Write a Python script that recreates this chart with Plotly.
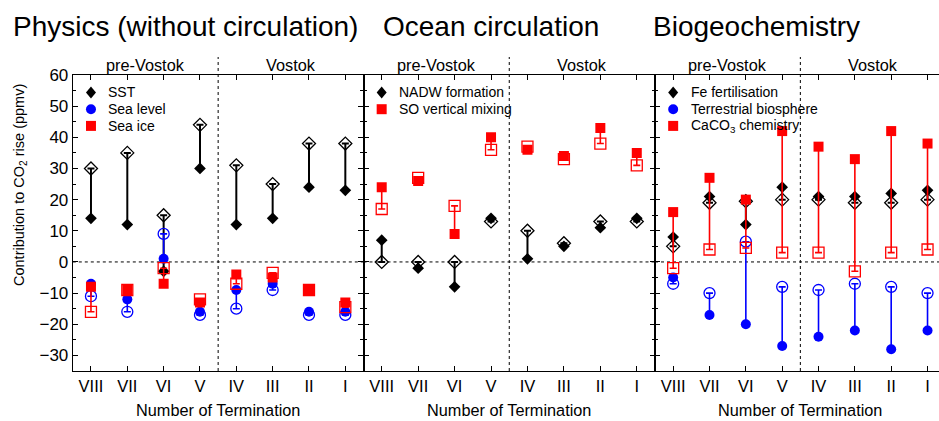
import plotly.graph_objects as go

W, H = 939, 421

terminations = ["VIII", "VII", "VI", "V", "IV", "III", "II", "I"]

# Physics (without circulation)
sst_full = [14, 12, -3, 30, 12, 14, 24, 23]
sst_open = [30, 35, 15, 44, 31, 25, 38, 38]
sea_level_full = [-7, -12, 1, -16, -9, -7, -16, -16]
sea_level_open = [-11, -16, 9, -17, -15, -9, -17, -17]
sea_ice_full = [-8, -9, -7, -13, -4, -5, -9, -13]
sea_ice_open = [-16, -9, -2, -12, -7, -3.5, -9, -14.5]

# Ocean circulation
nadw_full = [7, -2, -8, 14, 1, 5, 11, 14]
nadw_open = [0, 0, 0, 13, 10, 6, 13, 13]
so_full = [24, 26, 9, 40, 36, 34, 43, 35]
so_open = [17, 27, 18, 36, 37, 33, 38, 31]

# Biogeochemistry
fe_full = [8, 21, 12, 24, 21, 21, 22, 23]
fe_open = [5, 19, 19.5, 20, 20, 19, 19, 20]
tb_full = [-5, -17, -20, -27, -24, -22, -28, -22]
tb_open = [-7, -10, 6.5, -8, -9, -7, -8, -10]
caco3_full = [16, 27, 20, 42, 37, 33, 42, 38]
caco3_open = [-2, 4, 4.5, 3, 3, -3, 3, 4]

panel_titles = ["Physics (without circulation)", "Ocean circulation", "Biogeochemistry"]
period_labels = ["pre-Vostok", "Vostok"]
y_title = "Contribution to CO<sub>2</sub> rise (ppmv)"
x_title = "Number of Termination"

BLACK, BLUE, RED = "#000000", "#0000ff", "#ff0000"
FONT = "Liberation Sans, Arial, sans-serif"

# (name, filled values, open values, colour, symbol, filled size, open size, bar width)
panels = [
    [("SST", sst_full, sst_open, BLACK, "diamond", 9, 10, 2.0),
     ("Sea level", sea_level_full, sea_level_open, BLUE, "circle", 10, 11, 1.6),
     ("Sea ice", sea_ice_full, sea_ice_open, RED, "square", 10, 11, 1.6)],
    [("NADW formation", nadw_full, nadw_open, BLACK, "diamond", 9, 10, 2.0),
     ("SO vertical mixing", so_full, so_open, RED, "square", 10, 11, 1.6)],
    [("Fe fertilisation", fe_full, fe_open, BLACK, "diamond", 9, 10, 2.0),
     ("Terrestrial biosphere", tb_full, tb_open, BLUE, "circle", 10, 11, 1.6),
     ("CaCO<sub>3</sub> chemistry", caco3_full, caco3_open, RED, "square", 10, 11, 1.6)],
]

# pixel layout
px_left = [72.8, 363.5, 655.0]
px_right = [363.5, 655.0, 939.0]
cat_w = (363.5 - 72.8) / 8
top_px, bot_px = 75, 371

fig = go.Figure()

for p, series in enumerate(panels):
    sfx = "" if p == 0 else str(p + 1)
    for name, full, opn, col, sym, s_full, s_open, lw in series:
        diff = [o - f for o, f in zip(opn, full)]
        plus = [d if d > 0 else 0 for d in diff]
        minus = [-d if d < 0 else 0 for d in diff]
        fig.add_trace(go.Scatter(
            x=terminations, y=full, mode="markers", name=name, showlegend=False,
            xaxis="x" + sfx, yaxis="y" + sfx,
            marker=dict(symbol=sym, size=s_full, color=col, line=dict(width=0)),
            error_y=dict(type="data", symmetric=False, array=plus, arrayminus=minus,
                         color=col, thickness=lw, width=3.5),
        ))
        fig.add_trace(go.Scatter(
            x=terminations, y=opn, mode="markers", showlegend=False,
            xaxis="x" + sfx, yaxis="y" + sfx,
            marker=dict(symbol=sym + "-open", size=s_open, color=col, line=dict(width=1.3)),
        ))

layout = dict(
    template="none",
    width=W, height=H, margin=dict(l=0, r=0, t=0, b=0, autoexpand=False),
    paper_bgcolor="white", plot_bgcolor="white",
    font=dict(family=FONT, color="black"),
    showlegend=False,
)

ydom = [(H - bot_px) / H, (H - top_px) / H]
shapes, annotations = [], []


def ann(text, x, y, size, xanchor="center", xref="paper", angle=0):
    annotations.append(dict(text=text, xref=xref, yref="paper", x=x, y=y,
                            xanchor=xanchor, yanchor="middle", showarrow=False,
                            textangle=angle, font=dict(size=size, family=FONT, color="black")))


for p in range(3):
    sfx = "" if p == 0 else str(p + 1)
    xr_hi = 7.5 if p < 2 else -0.5 + (px_right[p] - px_left[p]) / cat_w
    layout["xaxis" + sfx] = dict(
        domain=[px_left[p] / W, px_right[p] / W], anchor="y" + sfx,
        type="category", categoryorder="array", categoryarray=terminations,
        range=[-0.5, xr_hi], ticks="inside", ticklen=5, tickwidth=1, tickcolor="black",
        showline=True, linewidth=1.2, linecolor="black", mirror="ticks",
        tickfont=dict(size=16.5, family=FONT, color="black"), showgrid=False,
        zeroline=False, automargin=False,
    )
    layout["yaxis" + sfx] = dict(
        domain=ydom, anchor="x" + sfx, range=[-35, 60], tick0=0, dtick=10,
        ticks="inside", ticklen=5, tickwidth=1, tickcolor="black",
        minor=dict(dtick=5, ticks="inside", ticklen=3, tickwidth=1,
                   tickcolor="black", showgrid=False),
        showline=True, linewidth=1.2, linecolor="black",
        mirror="ticks" if p < 2 else False,
        showticklabels=(p == 0), tickfont=dict(size=17, family=FONT, color="black"),
        showgrid=False, zeroline=False, automargin=False,
    )
    # zero line
    shapes.append(dict(type="line", xref="x" + sfx + " domain", yref="y" + sfx,
                       x0=0, x1=1, y0=0, y1=0,
                       line=dict(color="black", width=1, dash="dot"), layer="below"))
    # pre-Vostok / Vostok divider
    shapes.append(dict(type="line", xref="x" + sfx, yref="paper",
                       x0=3.5, x1=3.5, y0=(H - bot_px) / H, y1=(H - 57) / H,
                       line=dict(color="black", width=1, dash="dot"), layer="below"))
    ann(period_labels[0], 1.5, (H - 65) / H, 16.3, xref="x" + sfx)
    ann(period_labels[1], 5.5, (H - 65) / H, 16.3, xref="x" + sfx)
    # x title
    xc = px_left[p] + 4 * cat_w
    ann(x_title, xc / W, (H - 410) / H, 16.3)

    # manual legend (key glyph + label)
    key_x = (px_left[p] + 0.5 * cat_w) / W
    for i, (name, full, opn, col, sym, s_full, s_open, lw) in enumerate(panels[p]):
        row_y = (H - (92.5 + 16.7 * i)) / H
        base = dict(xref="paper", yref="paper", xsizemode="pixel", ysizemode="pixel",
                    xanchor=key_x, yanchor=row_y, fillcolor=col, line=dict(width=0))
        if sym == "diamond":
            shapes.append(dict(type="path", path="M0,6 L5,0 L0,-6 L-5,0 Z", **base))
        elif sym == "circle":
            shapes.append(dict(type="circle", x0=-5, x1=5, y0=-5, y1=5, **base))
        else:
            shapes.append(dict(type="rect", x0=-5, x1=5, y0=-5, y1=5, **base))
        ann(name, key_x + 15.5 / W, row_y, 14, xanchor="left")

title_x = [185, 491, 756]
for p in range(3):
    ann(panel_titles[p], title_x[p] / W, (H - 27) / H, 28)

ann(y_title, 20 / W, (H - 185) / H, 14.5, angle=-90)

layout["shapes"] = shapes
layout["annotations"] = annotations
fig.update_layout(**layout)

fig.write_html("out.html")
